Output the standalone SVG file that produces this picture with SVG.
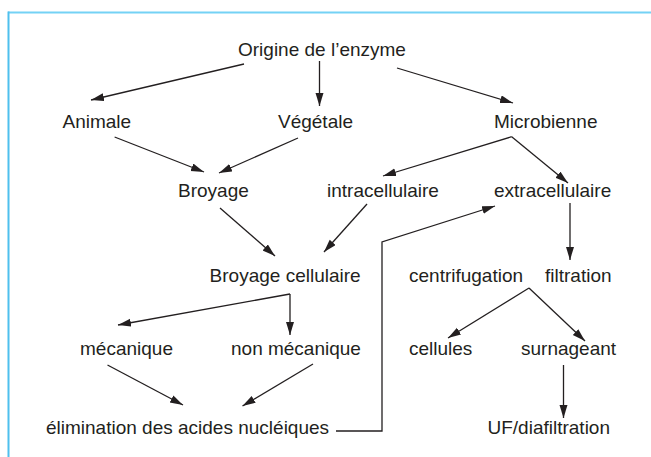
<svg xmlns="http://www.w3.org/2000/svg" width="651" height="457" viewBox="0 0 651 457">
<style>
text{font-family:"Liberation Sans",Arial,sans-serif;font-size:19px;fill:#231f20}
.c{fill:none;stroke:#231f20;stroke-width:1.3;marker-end:url(#ah)}
.p{fill:none;stroke:#231f20;stroke-width:1.3}
</style>
<defs>
<marker id="ah" markerUnits="userSpaceOnUse" markerWidth="14" markerHeight="10" refX="13" refY="4" orient="auto">
<path d="M0,0 L13,4 L0,8 Z" fill="#231f20"/>
</marker>
</defs>
<rect width="651" height="457" fill="#fff"/>
<g id="frame">
<line x1="8" y1="12.5" x2="651" y2="12.5" stroke="#74d2f5" stroke-width="2"/>
<line x1="8.5" y1="11.5" x2="8.5" y2="457" stroke="#4fc0ee" stroke-width="2"/>
</g>
<g id="connectors">
<path class="c" d="M244,64 L91,100"/>
<path class="c" d="M319.5,61 L319.5,106"/>
<path class="c" d="M397,68 L513,103"/>
<path class="c" d="M114.6,137 L204,172"/>
<path class="c" d="M298,138 L219,173"/>
<path class="c" d="M511.7,136.7 L383,176"/>
<path class="c" d="M511.7,136.7 L568,183"/>
<path class="c" d="M220,208 L275,256"/>
<path class="c" d="M367,204 L324,252"/>
<path class="c" d="M336,431 L382,431 L382,242 L495,206"/>
<path class="c" d="M570,203 L570,260"/>
<path class="c" d="M290,294 L118,325"/>
<path class="c" d="M290,294 L290,335"/>
<path class="c" d="M529,288 L448,338"/>
<path class="c" d="M529,288 L585,341"/>
<path class="c" d="M563.5,365 L563.5,418"/>
<path class="c" d="M107.5,365 L183,405"/>
<path class="c" d="M313,364 L242.5,406"/>
</g>
<g id="n-origine"><text x="238" y="56">Origine de l’enzyme</text></g>
<g id="n-animale"><text x="62.5" y="128">Animale</text></g>
<g id="n-vegetale"><text x="278" y="128">Végétale</text></g>
<g id="n-microbienne"><text x="494" y="128">Microbienne</text></g>
<g id="n-broyage"><text x="178" y="197">Broyage</text></g>
<g id="n-intracellulaire"><text x="327" y="197">intracellulaire</text></g>
<g id="n-extracellulaire"><text x="494" y="197">extracellulaire</text></g>
<g id="n-broyage-cellulaire"><text x="209.6" y="282">Broyage cellulaire</text></g>
<g id="n-centrifugation"><text x="409" y="282">centrifugation</text></g>
<g id="n-filtration"><text x="545" y="282">filtration</text></g>
<g id="n-mecanique"><text x="80" y="355">mécanique</text></g>
<g id="n-non-mecanique"><text x="231" y="355">non mécanique</text></g>
<g id="n-cellules"><text x="409" y="355">cellules</text></g>
<g id="n-surnageant"><text x="521" y="355">surnageant</text></g>
<g id="n-elimination"><text x="46" y="434">élimination des acides nucléiques</text></g>
<g id="n-uf"><text x="487.5" y="434">UF/diafiltration</text></g>
</svg>
